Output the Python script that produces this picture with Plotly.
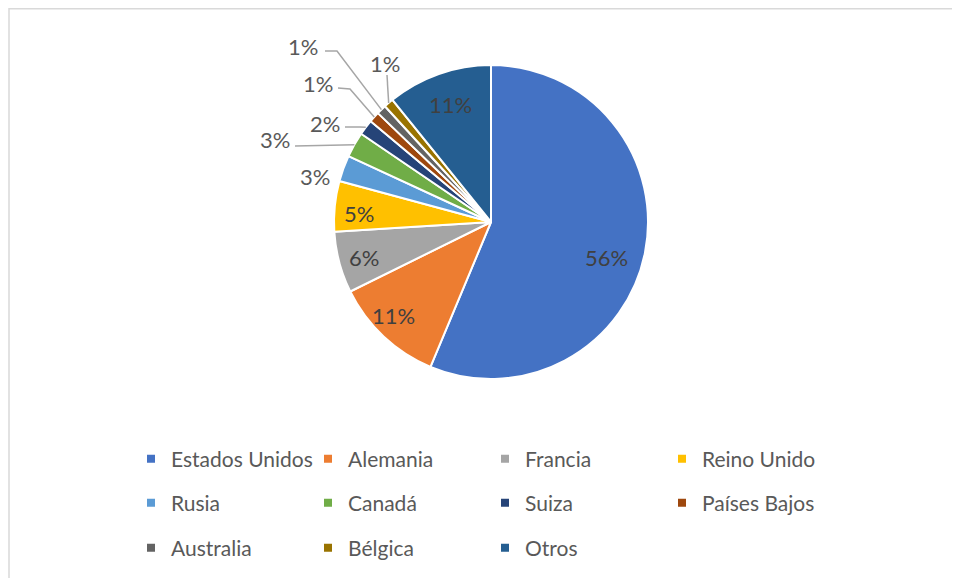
import math
import plotly.graph_objects as go

# datos
paises = ['Estados Unidos', 'Alemania', 'Francia', 'Reino Unido', 'Rusia', 'Canadá',
          'Suiza', 'Países Bajos', 'Australia', 'Bélgica', 'Otros']
porcentajes = [56.3, 11.4, 6.3, 5.2, 2.7, 2.6, 1.6, 1.1, 1.0, 1.0, 10.8]
colores = ['#4472C4', '#ED7D31', '#A5A5A5', '#FFC000', '#5B9BD5', '#70AD47',
           '#264478', '#9E480E', '#636363', '#997300', '#255E91']

W, H = 960, 578
OFF = 8  # margen del <body> en la pagina html
cx, cy, R = 491, 222, 157  # centro y radio de la tarta en pixeles de pantalla
FUENTE = 'Lato'
TAM = 22


def papel(x, y):
    return (x - OFF) / W, 1 - (y - OFF) / H


# posicion de las etiquetas (pixeles) y codo de la linea guia
etiquetas = {
    'Estados Unidos': dict(texto=(606, 258), dentro=True),
    'Alemania': dict(texto=(393, 315), dentro=True),
    'Francia': dict(texto=(364, 257), dentro=True),
    'Reino Unido': dict(texto=(359, 213), dentro=True),
    'Otros': dict(texto=(450, 104), dentro=True),
    'Rusia': dict(texto=(315, 177), linea=None),
    'Canadá': dict(texto=(275, 140), linea=[(295, 146)]),
    'Suiza': dict(texto=(325, 123), linea=[(345, 127), (360, 127)]),
    'Países Bajos': dict(texto=(318, 83), linea=[(338, 88), (350, 89)]),
    'Australia': dict(texto=(303, 46), linea=[(325, 51), (337, 51)]),
    'Bélgica': dict(texto=(385, 63), linea=[(387, 75)]),
}

total = sum(porcentajes)
fig = go.Figure()

px0, py0 = papel(cx - R, cy + R)
px1, py1 = papel(cx + R, cy - R)
fig.add_trace(go.Pie(
    labels=paises,
    values=porcentajes,
    sort=False,
    direction='clockwise',
    rotation=0,
    marker=dict(colors=colores, line=dict(color='white', width=2)),
    textinfo='none',
    domain=dict(x=[px0, px1], y=[py0, py1]),
    showlegend=False,
    hoverinfo='label+percent',
))

# etiquetas de datos y lineas guia
anotaciones = []
formas = []
acum = 0
for pais, v in zip(paises, porcentajes):
    medio = (acum + v / 2) / total
    acum += v
    info = etiquetas[pais]
    tx, ty = papel(*info['texto'])
    anotaciones.append(dict(
        x=tx, y=ty, xref='paper', yref='paper', showarrow=False,
        text=f'{round(v / total * 100)}%',
        font=dict(family=FUENTE, size=TAM, color='#404040' if info.get('dentro') else '#595959'),
        xanchor='center', yanchor='middle'))
    if info.get('linea'):
        ang = 2 * math.pi * medio
        borde = (cx + R * math.sin(ang), cy - R * math.cos(ang))
        puntos = info['linea'] + [borde]
        camino = 'M ' + ' L '.join('{:.5f},{:.5f}'.format(*papel(x, y)) for x, y in puntos)
        formas.append(dict(type='path', path=camino, xref='paper', yref='paper',
                           line=dict(color='#A6A6A6', width=1.5)))

# marco del area del grafico
formas.append(dict(type='rect', xref='paper', yref='paper',
                   x0=1 / W, y0=-0.05, x1=1.05, y1=1 - 0.75 / H,
                   line=dict(color='#D9D9D9', width=1.5)))

# leyenda en tres filas
filas = [paises[0:4], paises[4:8], paises[8:11]]
filas_y = [459, 503, 548]
leyendas = {}
for i, fila in enumerate(filas):
    nombre = 'legend' if i == 0 else f'legend{i + 1}'
    for pais in fila:
        fig.add_trace(go.Scatter(
            x=[None], y=[None], mode='markers', name=pais, legend=nombre,
            marker=dict(symbol='square', size=8, color=colores[paises.index(pais)]),
            hoverinfo='skip'))
    lx, ly = papel(131, filas_y[i])
    leyendas[nombre] = dict(
        orientation='h', x=lx, y=ly, xanchor='left', yanchor='middle',
        entrywidth=132, entrywidthmode='pixels',
        font=dict(family=FUENTE, size=21, color='#595959'),
        bgcolor='rgba(0,0,0,0)')

fig.update_layout(
    width=W, height=H,
    margin=dict(l=0, r=0, t=0, b=0),
    paper_bgcolor='white', plot_bgcolor='white',
    xaxis=dict(visible=False), yaxis=dict(visible=False),
    annotations=anotaciones,
    shapes=formas,
    **leyendas,
)

fig.write_html('out.html')
